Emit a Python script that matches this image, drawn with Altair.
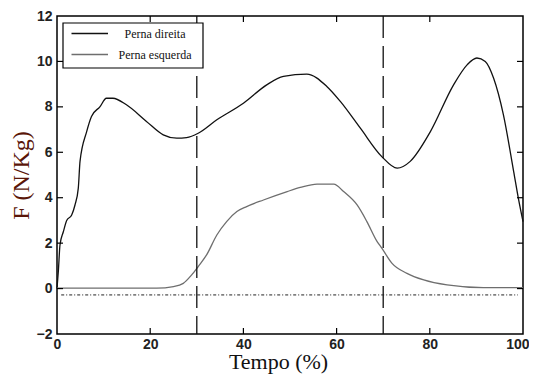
import altair as alt
import pandas as pd

# Perna direita (black)
dir_x = [0, 0.3, 0.64, 1.36, 2.08, 3.15, 3.86, 4.57, 4.94, 6.35, 7.4, 9.2, 10.6, 12.0, 14.9, 19.2,
         22.8, 25.7, 27.8, 30.3, 34.3, 40.0, 45.0, 48.6, 53.6, 57.9, 60.8, 65.1, 69.7, 73.0, 75.8,
         80.1, 85.1, 88.0, 90.1, 91.9, 93.7, 95.8, 98.0, 99.0, 100]
dir_y = [0, 0.8, 1.92, 2.5, 3.0, 3.24, 3.68, 4.42, 5.6, 6.9, 7.58, 8.0, 8.38, 8.38, 8.09, 7.36,
         6.77, 6.62, 6.65, 6.84, 7.43, 8.16, 8.97, 9.34, 9.44, 8.9, 8.24, 7.06, 5.81, 5.3, 5.6,
         6.9, 8.97, 9.85, 10.15, 10.0, 9.26, 7.65, 5.15, 3.98, 2.95]

# Perna esquerda (gray)
esq_x = [0, 21.4, 25, 27.1, 28.9, 30.3, 32.1, 34.3, 36.4, 38.6, 40.7, 44.3, 49.4, 52.2, 55.8,
         59.4, 61.5, 64.4, 66.5, 68.7, 69.7, 71.9, 75.1, 78.7, 83.7, 91.5, 100]
esq_y = [0.02, 0.02, 0.09, 0.23, 0.6, 0.97, 1.48, 2.36, 2.95, 3.39, 3.61, 3.9, 4.27, 4.45, 4.6,
         4.6, 4.27, 3.68, 2.95, 2.07, 1.78, 1.11, 0.67, 0.38, 0.16, 0.04, 0.04]

series_names = ["Perna direita", "Perna esquerda"]
series_colors = ["#111111", "#6e6e6e"]

vlines = [30, 70]
baseline = {"x": [0.9], "x2": [98.9], "y": [-0.28]}
x_ticks = [0, 20, 40, 60, 80, 100]
y_ticks = [-2, 0, 2, 4, 6, 8, 10, 12]
x_inner = [20, 40, 60, 80]
y_inner = [0, 2, 4, 6, 8, 10]

W, H = 466, 318

df = pd.concat([
    pd.DataFrame({"t": dir_x, "f": dir_y, "serie": series_names[0], "o": range(len(dir_x))}),
    pd.DataFrame({"t": esq_x, "f": esq_y, "serie": series_names[1], "o": range(len(esq_x))}),
])

xs = alt.Scale(domain=[0, 100], nice=False, zero=False)
ys = alt.Scale(domain=[-2, 12], nice=False, zero=False)

x_axis = alt.Axis(values=x_ticks, tickSize=0, domain=False, grid=False, labelFlush=False,
                  labelAlign={"condition": {"test": "datum.value == 100", "value": "right"},
                              "value": "center"},
                  labelOffset={"condition": {"test": "datum.value == 100", "value": 6},
                               "value": 0},
                  labelFont="Liberation Sans",
                  labelFontWeight="bold", labelFontSize=14, labelColor="#222", labelPadding=3,
                  title="Tempo (%)", titleFont="Liberation Serif", titleFontSize=22,
                  titleFontWeight="normal", titleColor="#111", titlePadding=0, titleX=221,
                  titleAlign="center")
y_axis = alt.Axis(values=y_ticks, tickSize=0, domain=False, grid=False, labelFlush=False,
                  labelFont="Liberation Sans",
                  labelFontWeight="bold", labelFontSize=14, labelColor="#222", labelPadding=5,
                  title="F (N/Kg)", titleFont="Liberation Serif", titleFontSize=24,
                  titleFontWeight="normal", titleColor="#5a1608", titlePadding=3)

lines = alt.Chart(df).mark_line(strokeWidth=1.3, interpolate="monotone").encode(
    x=alt.X("t:Q", scale=xs, axis=x_axis),
    y=alt.Y("f:Q", scale=ys, axis=y_axis),
    order="o:Q",
    color=alt.Color("serie:N", scale=alt.Scale(domain=series_names, range=series_colors),
                    legend=None),
)

vl = alt.Chart(pd.DataFrame({"v": vlines})).mark_rule(
    color="#111", strokeWidth=1.3, strokeDash=[22, 8]).encode(
    x=alt.X("v:Q", scale=xs), y=alt.value(0), y2=alt.value(H))

base = alt.Chart(pd.DataFrame(baseline)).mark_rule(
    color="#222", strokeWidth=1, strokeDash=[3, 2, 1, 2]).encode(
    x=alt.X("x:Q", scale=xs), x2="x2:Q", y=alt.Y("y:Q", scale=ys))

xt = pd.DataFrame({"v": x_inner})
yt = pd.DataFrame({"v": y_inner})
tb = alt.Chart(xt).mark_rule(color="black", strokeWidth=1.2).encode(
    x=alt.X("v:Q", scale=xs), y=alt.value(H), y2=alt.value(H - 6))
tt = alt.Chart(xt).mark_rule(color="black", strokeWidth=1.2).encode(
    x=alt.X("v:Q", scale=xs), y=alt.value(0), y2=alt.value(6))
tl = alt.Chart(yt).mark_rule(color="black", strokeWidth=1.2).encode(
    y=alt.Y("v:Q", scale=ys), x=alt.value(0), x2=alt.value(6))
tr = alt.Chart(yt).mark_rule(color="black", strokeWidth=1.2).encode(
    y=alt.Y("v:Q", scale=ys), x=alt.value(W), x2=alt.value(W - 6))

# legend box (drawn manually)
leg_box = alt.Chart(pd.DataFrame({"a": [0]})).mark_rect(
    fill="white", stroke="black", strokeWidth=1.2).encode(
    x=alt.value(6), x2=alt.value(146), y=alt.value(7), y2=alt.value(52))
leg_rows = [17.5, 38.5]
leg_layers = []
for i, name in enumerate(series_names):
    d = pd.DataFrame({"serie": [name]})
    leg_layers.append(alt.Chart(d).mark_rule(color=series_colors[i], strokeWidth=1.3).encode(
        x=alt.value(14.5), x2=alt.value(51), y=alt.value(leg_rows[i])))
    leg_layers.append(alt.Chart(d).mark_text(
        font="Liberation Serif", fontSize=12, color="#111", align="center", baseline="middle").encode(
        text="serie:N", x=alt.value(98), y=alt.value(leg_rows[i])))

chart = alt.layer(lines, vl, base, tb, tt, tl, tr, leg_box, *leg_layers).properties(
    width=W, height=H, autosize=alt.AutoSizeParams(type="none"),
    padding={"left": 49, "top": 8, "right": 6, "bottom": 43},
    background="white",
).configure_view(stroke="black", strokeWidth=1.5)

chart.save("out.html", embed_options={"renderer": "svg", "actions": False})
